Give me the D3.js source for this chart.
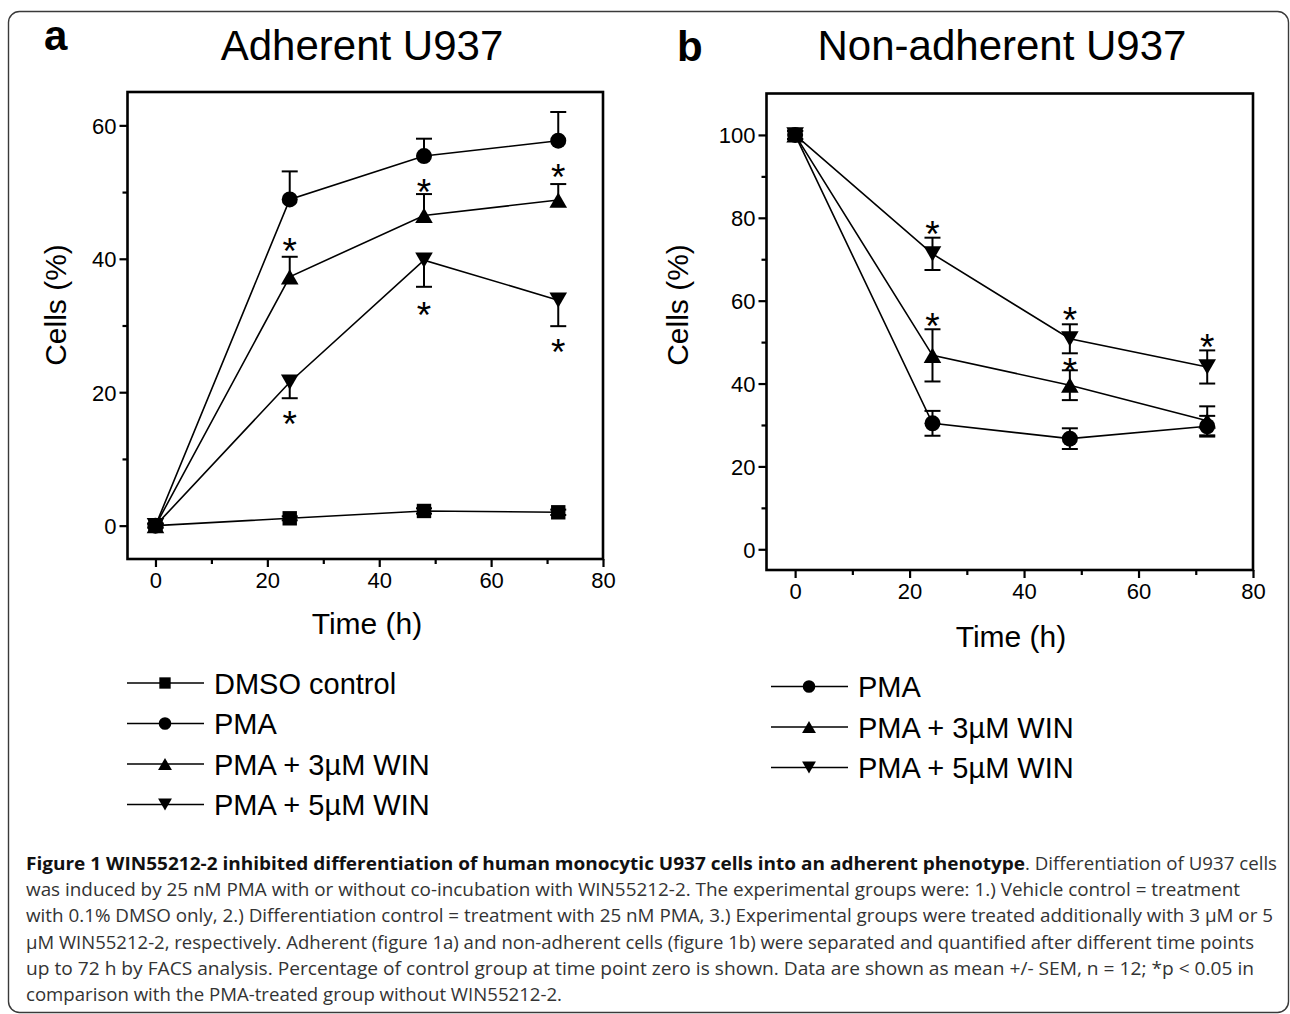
<!DOCTYPE html>
<html><head><meta charset="utf-8">
<script src="https://cdn.jsdelivr.net/npm/d3@7"></script>
<style>
html,body{margin:0;padding:0;background:#fff;}
svg{display:block;}
</style>
</head><body>
<svg id="fig" width="1290" height="1014"></svg>
<script>
// ---------- DATA ----------
const times = [0, 24, 48, 72];
const xTicks = [0, 20, 40, 60, 80];
const yTicksA = [0, 20, 40, 60];
const yTicksB = [0, 20, 40, 60, 80, 100];

const titleA = "Adherent U937";
const titleB = "Non-adherent U937";
const yLabel = "Cells (%)";
const xLabel = "Time (h)";

const legendNamesA = ["DMSO control", "PMA", "PMA + 3\u00b5M WIN", "PMA + 5\u00b5M WIN"];
const legendNamesB = ["PMA", "PMA + 3\u00b5M WIN", "PMA + 5\u00b5M WIN"];

// Panel a (adherent)
const dmsoA = [0, 1.1, 2.2, 2.0];
const dmsoSemA = [0.3, 0.3, 0.4, 0.4];
const pmaA = [0, 48.9, 55.4, 57.7];
const pmaSemA = [0.3, 4.2, 2.6, 4.3];
const win3A = [0, 37.3, 46.5, 48.8];
const win3SemA = [0.3, 3.0, 3.2, 2.4];
const win5A = [0, 21.5, 39.8, 33.8];
const win5SemA = [0.3, 2.4, 4.0, 3.9];
const starsWin3A = [null, 42.3, 51.2, 53.5];
const starsWin5A = [null, 16.5, 32.8, 27.3];

// Panel b (non-adherent)
const pmaB = [100, 30.4, 26.7, 29.7];
const pmaSemB = [1, 3.0, 2.5, 2.5];
const win3B = [100, 46.8, 39.6, 31.0];
const win3SemB = [1, 6.3, 3.6, 3.5];
const win5B = [100, 71.3, 50.8, 44.0];
const win5SemB = [1, 3.9, 3.5, 4.0];
const starsWin3B = [null, 55.7, 44.9, null];
const starsWin5B = [null, 78.1, 57.3, 50.8];

const captionBold = "Figure 1 WIN55212-2 inhibited differentiation of human monocytic U937 cells into an adherent phenotype";
const captionLines = [
  ". Differentiation of U937 cells",
  "was induced by 25 nM PMA with or without co-incubation with WIN55212-2. The experimental groups were: 1.) Vehicle control = treatment",
  "with 0.1% DMSO only, 2.) Differentiation control = treatment with 25 nM PMA, 3.) Experimental groups were treated additionally with 3 \u00b5M or 5",
  "\u00b5M WIN55212-2, respectively. Adherent (figure 1a) and non-adherent cells (figure 1b) were separated and quantified after different time points",
  "up to 72 h by FACS analysis. Percentage of control group at time point zero is shown. Data are shown as mean +/- SEM, n = 12; *p < 0.05 in",
  "comparison with the PMA-treated group without WIN55212-2."
];

// ---------- DRAW ----------
const svg = d3.select("#fig");
const FONT = "'Liberation Sans', Arial, sans-serif";

// outer rounded border
svg.append("rect").attr("x", 8.5).attr("y", 11.5).attr("width", 1280).attr("height", 1001)
  .attr("rx", 11).attr("fill", "none").attr("stroke", "#3a3a3a").attr("stroke-width", 1.4);

function marker(shape, r) {
  if (shape === "circle") return d3.symbol(d3.symbolCircle, Math.PI * r * r)();
  if (shape === "square") return d3.symbol(d3.symbolSquare, (r * 1.8) * (r * 1.8))();
  const w = r * 1.1, h = r * 0.95;
  if (shape === "up") return `M0,${-h}L${w},${h}L${-w},${h}Z`;
  return `M0,${h}L${w},${-h}L${-w},${-h}Z`;
}

function panel(cfg) {
  const g = svg.append("g");
  const x = d3.scaleLinear().domain([-5, 80]).range([cfg.x0, cfg.x1]);
  const y = d3.scaleLinear().domain(cfg.yDomain).range([cfg.y1, cfg.y0]);

  // x axis
  const xa = g.append("g").attr("transform", `translate(0,${cfg.y1})`)
    .call(d3.axisBottom(x).tickValues(xTicks).tickSize(8).tickPadding(6).tickFormat(d3.format("d")));
  xa.select(".domain").remove();
  xa.selectAll("line").attr("stroke", "#000").attr("stroke-width", 2.2);
  xa.selectAll("text").attr("font-family", FONT).attr("font-size", 22).attr("fill", "#000").attr("dy", null).attr("y", 29);
  const xMinor = g.append("g").attr("transform", `translate(0,${cfg.y1})`)
    .call(d3.axisBottom(x).tickValues([10, 30, 50, 70]).tickSize(5).tickFormat(""));
  xMinor.select(".domain").remove();
  xMinor.selectAll("line").attr("stroke", "#000").attr("stroke-width", 2.2);

  // y axis
  const ya = g.append("g").attr("transform", `translate(${cfg.x0},0)`)
    .call(d3.axisLeft(y).tickValues(cfg.yTicks).tickSize(8).tickPadding(3).tickFormat(d3.format("d")));
  ya.select(".domain").remove();
  ya.selectAll("line").attr("stroke", "#000").attr("stroke-width", 2.2);
  ya.selectAll("text").attr("font-family", FONT).attr("font-size", 22).attr("fill", "#000").attr("x", -11).attr("dy", "0.36em");
  const yMinor = g.append("g").attr("transform", `translate(${cfg.x0},0)`)
    .call(d3.axisLeft(y).tickValues(cfg.yMinor).tickSize(5).tickFormat(""));
  yMinor.select(".domain").remove();
  yMinor.selectAll("line").attr("stroke", "#000").attr("stroke-width", 2.2);

  // frame
  g.append("rect").attr("x", cfg.x0).attr("y", cfg.y0).attr("width", cfg.x1 - cfg.x0).attr("height", cfg.y1 - cfg.y0)
    .attr("fill", "none").attr("stroke", "#000").attr("stroke-width", 2.6);

  // axis titles
  g.append("text").attr("x", cfg.xLabelX).attr("y", cfg.xLabelY).attr("text-anchor", "middle")
    .attr("font-family", FONT).attr("font-size", 30).text(xLabel);
  g.append("text").attr("transform", `translate(${cfg.yLabelX},${cfg.yLabelY}) rotate(-90)`).attr("text-anchor", "middle")
    .attr("font-family", FONT).attr("font-size", 30).text(yLabel);

  // titles
  g.append("text").attr("x", cfg.titleX).attr("y", 60).attr("text-anchor", "middle")
    .attr("font-family", FONT).attr("font-size", 42).text(cfg.title);
  g.append("text").attr("x", cfg.letterX).attr("y", cfg.letterY)
    .attr("font-family", FONT).attr("font-weight", "bold").attr("font-size", 42).text(cfg.letter);

  const line = d3.line().x((d, i) => x(times[i])).y(d => y(d));
  // lines
  cfg.series.forEach(s => {
    g.append("path").attr("d", line(s.values)).attr("fill", "none").attr("stroke", "#000").attr("stroke-width", 1.6);
  });
  // error bars
  cfg.series.forEach(s => {
    s.values.forEach((v, i) => {
      const cx = x(times[i]);
      const ends = [];
      if (s.dir >= 0) ends.push(v + s.sem[i]);
      if (s.dir <= 0) ends.push(v - s.sem[i]);
      ends.forEach(e => {
        g.append("line").attr("x1", cx).attr("x2", cx).attr("y1", y(v)).attr("y2", y(e))
          .attr("stroke", "#000").attr("stroke-width", 2);
        g.append("line").attr("x1", cx - 8).attr("x2", cx + 8).attr("y1", y(e)).attr("y2", y(e))
          .attr("stroke", "#000").attr("stroke-width", 2);
      });
    });
  });
  // markers
  cfg.series.forEach(s => {
    s.values.forEach((v, i) => {
      g.append("path").attr("d", marker(s.shape, 8)).attr("transform", `translate(${x(times[i])},${y(v)})`).attr("fill", "#000");
    });
  });
  // significance stars
  cfg.stars.forEach(arr => {
    arr.forEach((v, i) => {
      if (v == null) return;
      g.append("text").attr("x", x(times[i])).attr("y", y(v) + 21).attr("text-anchor", "middle")
        .attr("font-family", FONT).attr("font-size", 37).text("*");
    });
  });

  // legend
  cfg.legend.forEach((s, i) => {
    const ry = cfg.legY + i * 40.5;
    g.append("line").attr("x1", cfg.legX).attr("x2", cfg.legX + 77).attr("y1", ry).attr("y2", ry)
      .attr("stroke", "#000").attr("stroke-width", 1.6);
    g.append("path").attr("d", marker(s.shape, 6.3)).attr("transform", `translate(${cfg.legX + 38},${ry})`).attr("fill", "#000");
    g.append("text").attr("x", cfg.legX + 87).attr("y", ry + 10.5).attr("font-family", FONT).attr("font-size", 29).text(s.name);
  });
}

const seriesA = [
  {name: legendNamesA[0], values: dmsoA, sem: dmsoSemA, shape: "square", dir: 0},
  {name: legendNamesA[1], values: pmaA, sem: pmaSemA, shape: "circle", dir: 1},
  {name: legendNamesA[2], values: win3A, sem: win3SemA, shape: "up", dir: 1},
  {name: legendNamesA[3], values: win5A, sem: win5SemA, shape: "down", dir: -1}
];
const seriesB = [
  {name: legendNamesB[0], values: pmaB, sem: pmaSemB, shape: "circle", dir: 0},
  {name: legendNamesB[1], values: win3B, sem: win3SemB, shape: "up", dir: 0},
  {name: legendNamesB[2], values: win5B, sem: win5SemB, shape: "down", dir: 0}
];

panel({x0: 127.5, x1: 603, y0: 92, y1: 559, yDomain: [-5, 65], yTicks: yTicksA, yMinor: [10, 30, 50],
  series: seriesA, stars: [starsWin3A, starsWin5A], legend: seriesA, legX: 127, legY: 683,
  title: titleA, titleX: 362, letter: "a", letterX: 44, letterY: 50,
  xLabelX: 367, xLabelY: 634, yLabelX: 66, yLabelY: 305});

panel({x0: 766.5, x1: 1253, y0: 93.5, y1: 570, yDomain: [-5, 110], yTicks: yTicksB, yMinor: [10, 30, 50, 70, 90],
  series: seriesB, stars: [starsWin3B, starsWin5B], legend: seriesB, legX: 771, legY: 686.5,
  title: titleB, titleX: 1002, letter: "b", letterX: 677, letterY: 61,
  xLabelX: 1011, xLabelY: 647, yLabelX: 688, yLabelY: 305});

// caption
const CF = "'Open Sans', 'Noto Sans', sans-serif";
const capX = 26, capY0 = 870, capDy = 26.2;
const capEnds = [1277, 1240, 1273, 1254, 1254, 562];
svg.append("text").attr("x", capX).attr("y", capY0).attr("font-family", CF).attr("font-size", 18).attr("font-weight", "bold")
  .attr("fill", "#111").attr("textLength", 1025 - capX).attr("lengthAdjust", "spacingAndGlyphs").text(captionBold);
captionLines.forEach((t, i) => {
  const sx = i === 0 ? 1025 : capX;
  svg.append("text").attr("x", sx).attr("y", capY0 + i * capDy).attr("font-family", CF).attr("font-size", 18)
    .attr("fill", "#333").attr("textLength", capEnds[i] - sx).attr("lengthAdjust", "spacingAndGlyphs").text(t);
});
</script>
</body></html>
